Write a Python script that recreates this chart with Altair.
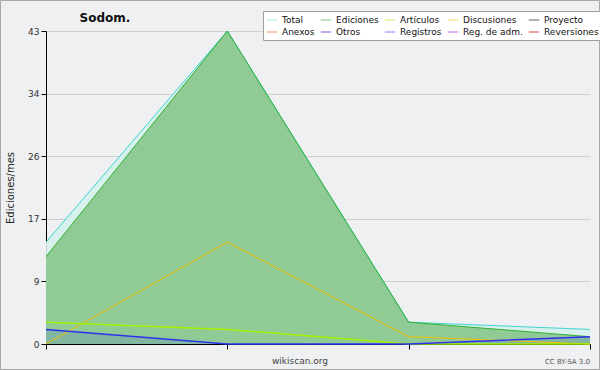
import altair as alt
import pandas as pd

months = [0, 1, 2, 3]
total = [14, 43, 3, 2]
ediciones = [12, 43, 3, 1]
articulos = [3, 2, 0, 0]
discusiones = [0, 14, 1, 0]
registros = [2, 0, 0, 1]

legend_names = ["Total", "Ediciones", "Artículos", "Discusiones", "Proyecto",
                "Anexos", "Otros", "Registros", "Reg. de adm.", "Reversiones"]
legend_colors = ["#a8e6e0", "#80c880", "#c4f064", "#f4d468", "#606060",
                 "#f09060", "#9050e0", "#8484f0", "#c868e0", "#e04848"]

YMAX = 43
major = YMAX / 5
tick_vals = [round(i * YMAX / 20, 4) for i in range(21)]

df = pd.DataFrame({
    "m": months,
    "total": total,
    "ediciones": ediciones,
    "articulos": articulos,
    "discusiones": discusiones,
    "registros": registros,
})

is_major = f"abs(datum.value/{major} - round(datum.value/{major})) < 0.01"

x = alt.X("m:Q", scale=alt.Scale(domain=[0, 3], nice=False, zero=False),
          axis=alt.Axis(values=months, labels=False, title=None, grid=False,
                        domainColor="#000", tickColor="#000", tickSize=5))

def yenc(field):
    return alt.Y(f"{field}:Q", scale=alt.Scale(domain=[0, YMAX], nice=False),
                 axis=alt.Axis(values=tick_vals, title="Ediciones/mes",
                               titleFont="DejaVu Sans", titleFontSize=10,
                               titleFontWeight="normal", titleColor="#222",
                               titlePadding=12,
                               labelExpr=f"{is_major} ? format(round(datum.value), 'd') : ''",
                               labelFont="DejaVu Sans", labelFontSize=9,
                               labelColor="#333", labelPadding=2,
                               labelOverlap=False,
                               domainColor="#000", tickColor="#000",
                               tickSize={"condition": {"test": is_major, "value": 5}, "value": 3},
                               gridColor={"condition": {"test": is_major, "value": "#cfcfcf"}, "value": "transparent"},
                               gridWidth=1))

base = alt.Chart(df)

total_area = base.mark_area(color="#d6f1ec", opacity=0.9).encode(x=x, y=yenc("total"))
total_line = base.mark_line(color="#40d4d0", strokeWidth=1).encode(x=x, y=yenc("total"))
ed_area = base.mark_area(color="#90ca94").encode(x=x, y=yenc("ediciones"))
ed_line = base.mark_line(color="#30b030", strokeWidth=1).encode(x=x, y=yenc("ediciones"))
reg_area = base.mark_area(color="#3040f0", opacity=0.14).encode(x=x, y=yenc("registros"))
art_line = base.mark_line(color="#a4f000", strokeWidth=1.5).encode(x=x, y=yenc("articulos"))
dis_line = base.mark_line(color="#f0c000", strokeWidth=1).encode(x=x, y=yenc("discusiones"))
reg_line = base.mark_line(color="#3030f0", strokeWidth=1.5).encode(x=x, y=yenc("registros"))

leg_df = pd.DataFrame({"serie": legend_names, "m": [0] * 10, "v": [0] * 10})
legend_layer = alt.Chart(leg_df).mark_line().encode(
    x=alt.X("m:Q"),
    y=alt.Y("v:Q"),
    color=alt.Color("serie:N",
                    scale=alt.Scale(domain=legend_names, range=legend_colors),
                    legend=alt.Legend(orient="none", legendX=217, legendY=-20,
                                      direction="horizontal",
                                      columns=5, title=None, symbolType="stroke",
                                      symbolSize=110, symbolStrokeWidth=1,
                                      symbolOpacity=1,
                                      labelFont="DejaVu Sans", labelFontSize=9,
                                      labelColor="#111", labelOffset=4,
                                      columnPadding=3, rowPadding=1,
                                      padding=3, fillColor="#ffffff",
                                      strokeColor="#a0a0a0", labelLimit=200)),
).transform_filter("datum.v < 0")

one = pd.DataFrame({"t": [""]})
title_txt = alt.Chart(one).mark_text(text="Sodom.", font="DejaVu Sans", fontSize=12,
                                     fontWeight="bold", color="#111", baseline="middle",
                                     align="center").encode(x=alt.value(59), y=alt.value(-13))
wiki_txt = alt.Chart(one).mark_text(text="wikiscan.org", font="DejaVu Sans", fontSize=9,
                                    color="#444", baseline="middle",
                                    align="center").encode(x=alt.value(254), y=alt.value(330))
cc_txt = alt.Chart(one).mark_text(text="CC BY-SA 3.0", font="DejaVu Sans", fontSize=7,
                                  color="#555", baseline="middle",
                                  align="right").encode(x=alt.value(544), y=alt.value(331))
frame = alt.Chart(one).mark_rect(fill=None, stroke="#a8a8a8", strokeWidth=1).encode(
    x=alt.value(-45.5), x2=alt.value(553.5), y=alt.value(-30.5), y2=alt.value(338.5))

chart = alt.layer(
    total_area, ed_area, reg_area, total_line, ed_line, dis_line, art_line, reg_line,
    legend_layer, title_txt, wiki_txt, cc_txt, frame
).properties(
    width=544, height=313,
    autosize=alt.AutoSizeParams(type="none"),
    padding={"left": 46, "top": 31, "right": 10, "bottom": 26},
    background="#eff0f2",
).configure_view(stroke=None, fill="#eff0f2")

chart.save("out.html", embed_options={"renderer": "svg", "actions": False})
